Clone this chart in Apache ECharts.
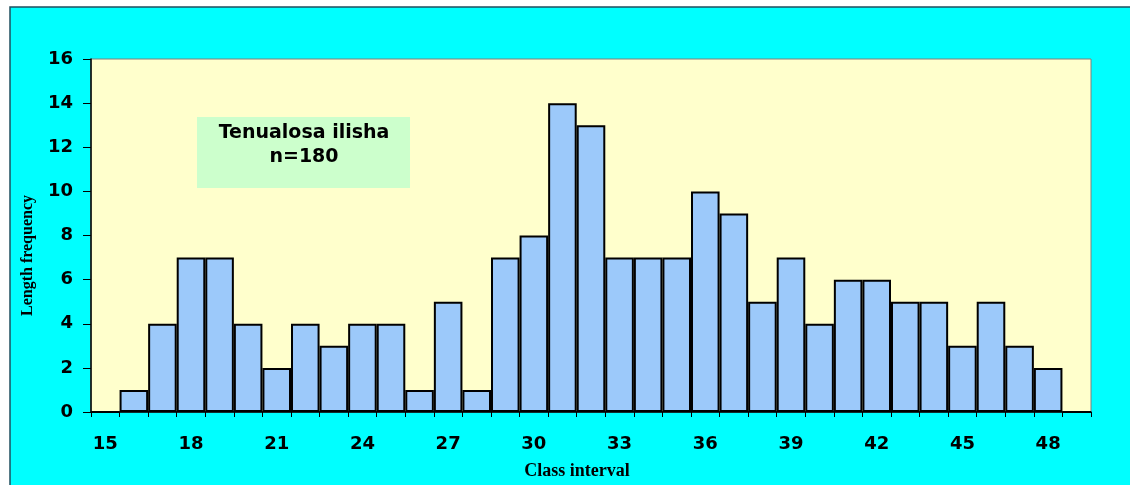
<!DOCTYPE html>
<html><head><meta charset="utf-8">
<script src="https://cdn.jsdelivr.net/npm/echarts@6/dist/echarts.min.js"></script>
<style>html,body{margin:0;padding:0;background:#fff}#c{width:1130px;height:485px}</style>
</head><body><div id="c"></div>
<script>
const categories = ['15','16','17','18','19','20','21','22','23','24','25','26','27','28','29','30','31','32','33','34','35','36','37','38','39','40','41','42','43','44','45','46','47','48','49'];
const frequency = [0,1,4,7,7,4,2,4,3,4,4,1,5,1,7,8,14,13,7,7,7,10,9,5,7,4,6,6,5,5,3,5,3,2,0];
const yTicks = {min:0, max:16, interval:2};
const boxLines = ['Tenualosa ilisha','n=180'];

const sans = '"DejaVu Sans", Arial, sans-serif';
const serif = '"Liberation Serif", "Times New Roman", serif';
const chart = echarts.init(document.getElementById('c'));
chart.setOption({
  backgroundColor:'#ffffff',
  animation:false,
  graphic:[
    {type:'rect', z:-10, shape:{x:10,y:7,width:1125,height:485}, style:{fill:'#00FFFF', stroke:'#1F4F5F', lineWidth:1.5}},
    {type:'rect', z:5, shape:{x:197,y:117,width:213,height:71}, style:{fill:'#CCFFCC'}},
    {type:'text', z:6, x:304, y:133, style:{text:boxLines[0], font:'bold 19px ' + sans, fill:'#000', align:'center', verticalAlign:'middle'}},
    {type:'text', z:6, x:304, y:157, style:{text:boxLines[1], font:'bold 19px ' + sans, fill:'#000', align:'center', verticalAlign:'middle'}}
  ],
  grid:{left:91, top:59, right:39, bottom:70, show:true, backgroundColor:'#FFFFCC', borderColor:'#7F7F7F', borderWidth:1},
  xAxis:{
    type:'category', data:categories,
    name:'Class interval', nameLocation:'middle', nameGap:50,
    nameTextStyle:{fontFamily:serif, fontWeight:'bold', fontSize:18, color:'#000', padding:[0,28,0,0]},
    axisLine:{lineStyle:{color:'#000', width:1.5}},
    axisTick:{show:true, interval:0, length:5, lineStyle:{color:'#000'}},
    axisLabel:{interval:2, margin:23, fontFamily:sans, fontWeight:'bold', fontSize:18, color:'#000'},
    splitLine:{show:false}
  },
  yAxis:{
    type:'value', min:yTicks.min, max:yTicks.max, interval:yTicks.interval,
    name:'Length frequency', nameLocation:'middle', nameGap:55, nameRotate:90,
    nameTextStyle:{fontFamily:serif, fontWeight:'bold', fontSize:16, color:'#000', padding:[0,40,0,0]},
    axisLine:{show:true, lineStyle:{color:'#000', width:1.5}},
    axisTick:{show:true, length:8, lineStyle:{color:'#000'}},
    axisLabel:{margin:18, fontFamily:sans, fontWeight:'bold', fontSize:18, color:'#000'},
    splitLine:{show:false}
  },
  series:[{
    type:'bar', data:frequency, barCategoryGap:'0%', barGap:'0%',
    itemStyle:{color:'#9CC9FA', borderColor:'#000', borderWidth:2}
  }]
});
</script></body></html>
